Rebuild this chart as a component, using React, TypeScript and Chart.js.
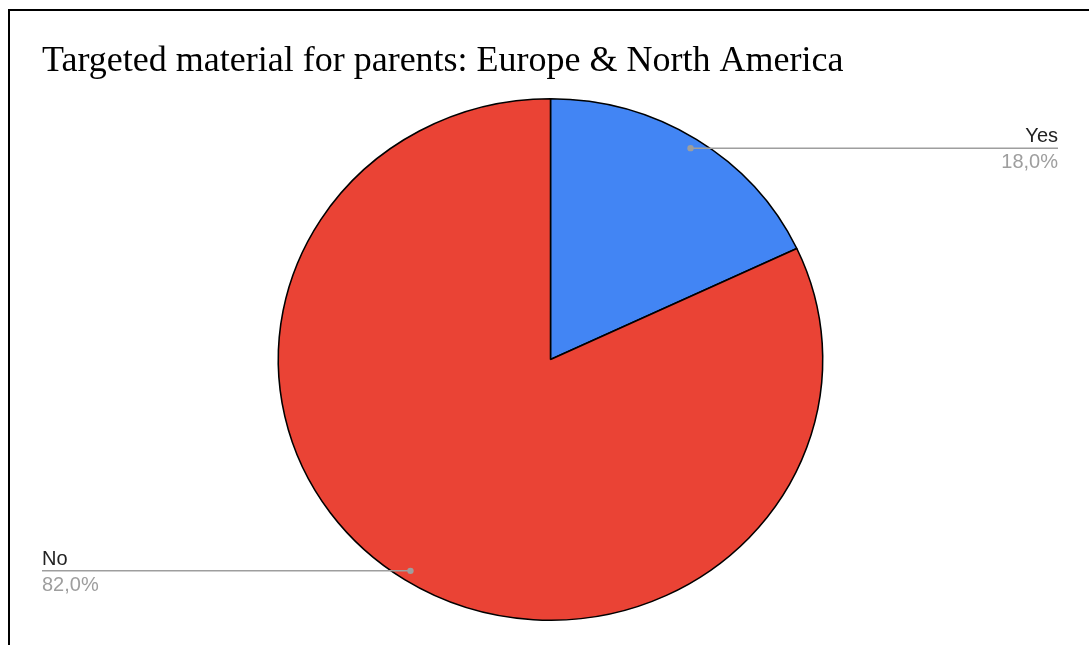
import React, { useEffect, useRef } from "react";
import { Chart, registerables } from "chart.js";

Chart.register(...registerables);

const TITLE = "Targeted material for parents: Europe & North America";
const categories = ["Yes", "No"];
const values = [18.0, 82.0];
const colors = ["#4285F4", "#EA4335"];

const SX = 1.044; // horizontal stretch of the pie in the reference

function center(chart: any) {
  const a = chart.getDatasetMeta(0).data[0];
  return { x: a.x, y: a.y };
}

const stretchPlugin = {
  id: "stretch",
  beforeDatasetsDraw(chart: any) {
    const ctx = chart.ctx as CanvasRenderingContext2D;
    const c = center(chart);
    ctx.save();
    ctx.translate(c.x, c.y);
    ctx.scale(SX, 1);
    ctx.translate(-c.x, -c.y);
  },
  afterDatasetsDraw(chart: any) {
    chart.ctx.restore();
  },
};

const labelPlugin = {
  id: "leaderLabels",
  afterDraw(chart: any) {
    const ctx = chart.ctx as CanvasRenderingContext2D;
    const meta = chart.getDatasetMeta(0);
    const total = values.reduce((a, b) => a + b, 0);
    ctx.save();
    ctx.fillStyle = "#000";
    ctx.font = "36px 'Liberation Serif', 'Times New Roman', serif";
    ctx.textAlign = "left";
    ctx.textBaseline = "alphabetic";
    ctx.fillText(TITLE, 42, 71);

    meta.data.forEach((arc: any, i: number) => {
      const p = arc.getProps(["x", "y", "startAngle", "endAngle", "outerRadius"], true);
      const mid = (p.startAngle + p.endAngle) / 2;
      const rr = p.outerRadius * 0.96;
      const dx = p.x + Math.cos(mid) * rr * SX;
      const dy = p.y + Math.sin(mid) * rr;
      const right = Math.cos(mid) >= 0;
      const lx = right ? 1058 : 42;
      ctx.strokeStyle = "#9e9e9e";
      ctx.lineWidth = 1.5;
      ctx.beginPath();
      ctx.moveTo(dx, dy);
      ctx.lineTo(lx, dy);
      ctx.stroke();
      ctx.fillStyle = "#9e9e9e";
      ctx.beginPath();
      ctx.arc(dx, dy, 3.2, 0, Math.PI * 2);
      ctx.fill();
      const pct = ((values[i] / total) * 100).toFixed(1).replace(".", ",") + "%";
      ctx.textAlign = right ? "right" : "left";
      ctx.font = "20px 'Liberation Sans', Arial, sans-serif";
      ctx.fillStyle = "#222";
      ctx.textBaseline = "alphabetic";
      ctx.fillText(categories[i], lx, dy - 6);
      ctx.fillStyle = "#9e9e9e";
      ctx.fillText(pct, lx, dy + 20);
    });
    ctx.restore();
  },
};

export default function App() {
  const ref = useRef<HTMLCanvasElement | null>(null);
  useEffect(() => {
    document.body.style.margin = "0";
    const chart = new Chart(ref.current as HTMLCanvasElement, {
      type: "pie",
      data: {
        labels: categories,
        datasets: [
          {
            data: values,
            backgroundColor: colors,
            borderColor: "#000",
            borderWidth: 1.5,
          },
        ],
      },
      options: {
        animation: false,
        responsive: false,
        maintainAspectRatio: false,
        layout: { padding: { top: 98, bottom: 24, left: 12, right: 0 } },
        plugins: {
          legend: { display: false },
          tooltip: { enabled: false },
          title: { display: false },
        },
      },
      plugins: [stretchPlugin, labelPlugin],
    });
    return () => chart.destroy();
  }, []);
  return (
    <div style={{ position: "fixed", left: 0, top: 0, width: 1089, height: 645, background: "#fff", overflow: "hidden" }}>
      <canvas ref={ref} width={1089} height={645} style={{ position: "absolute", left: 0, top: 0, width: 1089, height: 645 }} />
      <div
        style={{
          position: "absolute",
          left: 8,
          top: 9,
          width: 1200,
          height: 800,
          borderLeft: "2px solid #000",
          borderTop: "2px solid #000",
          pointerEvents: "none",
        }}
      />
    </div>
  );
}
